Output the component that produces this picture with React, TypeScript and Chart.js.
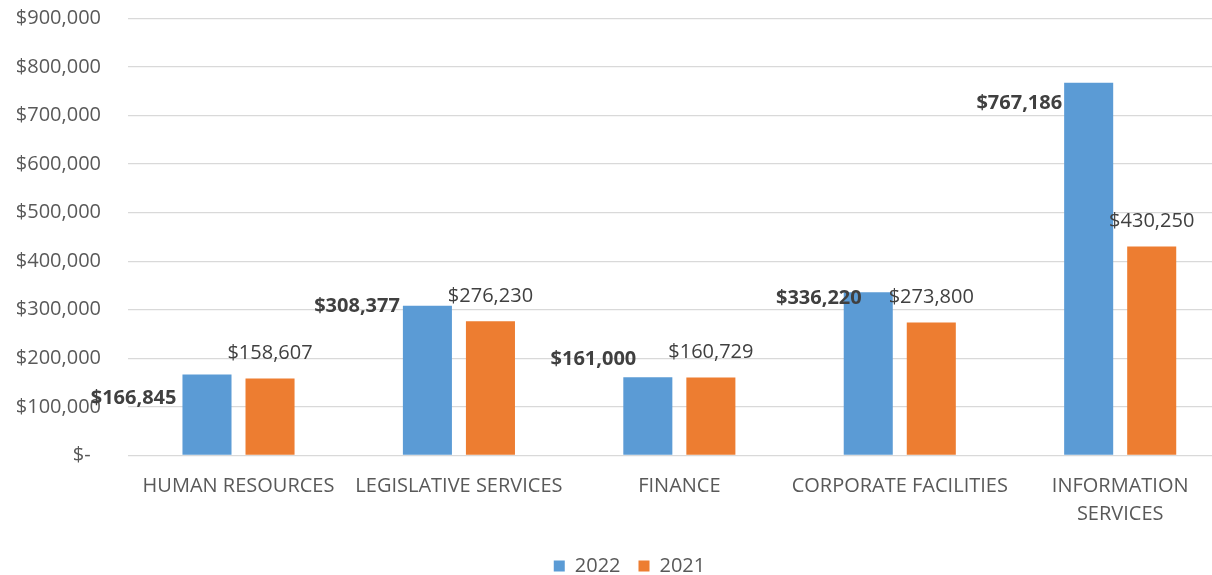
import React, { useEffect, useRef } from "react";
import { Chart, registerables } from "chart.js";

Chart.register(...registerables);

const categories: (string | string[])[] = [
  "HUMAN RESOURCES",
  "LEGISLATIVE SERVICES",
  "FINANCE",
  "CORPORATE FACILITIES",
  ["INFORMATION", "SERVICES"],
];
const values2022 = [166845, 308377, 161000, 336220, 767186];
const values2021 = [158607, 276230, 160729, 273800, 430250];
const yTicks = [0, 100000, 200000, 300000, 400000, 500000, 600000, 700000, 800000, 900000];

// label nudges (px) for the bold 2022 labels, relative to the bar's top-left corner
const LABEL_DX = [-6, -3, 13, 18, -2];
const LABEL_DY = [24, 1, -18, 6, 20];

const FONT = "'Open Sans', sans-serif";
const fmt = (v: number) => "$" + v.toLocaleString("en-US");

const labelPlugin = {
  id: "barLabels",
  afterLayout(chart: any) {
    if (chart.legend) {
      chart.legend.left += 14.3;
      chart.legend.right += 14.3;
    }
  },
  afterDatasetsDraw(chart: any) {
    const ctx = chart.ctx;
    ctx.save();
    ctx.fillStyle = "#404040";
    ctx.textBaseline = "middle";
    const m0 = chart.getDatasetMeta(0);
    ctx.font = `bold 20px ${FONT}`;
    ctx.textAlign = "right";
    m0.data.forEach((bar: any, i: number) => {
      const left = bar.x - bar.width / 2;
      ctx.fillText(fmt(values2022[i]), left + LABEL_DX[i], bar.y + LABEL_DY[i]);
    });
    const m1 = chart.getDatasetMeta(1);
    ctx.font = `20px ${FONT}`;
    ctx.textAlign = "center";
    m1.data.forEach((bar: any, i: number) => {
      ctx.fillText(fmt(values2021[i]), bar.x, bar.y - 25);
    });
    ctx.restore();
  },
};

export default function App() {
  const ref = useRef<HTMLCanvasElement>(null);
  useEffect(() => {
    if (!ref.current) return;
    const chart = new Chart(ref.current, {
      type: "bar",
      data: {
        labels: categories,
        datasets: [
          {
            label: "2022",
            data: values2022,
            backgroundColor: "#5B9BD5",
            categoryPercentage: 0.572,
            barPercentage: 0.778,
          },
          {
            label: "2021",
            data: values2021,
            backgroundColor: "#ED7D31",
            categoryPercentage: 0.572,
            barPercentage: 0.778,
          },
        ],
      },
      options: {
        responsive: false,
        animation: false,
        devicePixelRatio: 1,
        layout: { padding: { top: 18.3, left: 0, right: 1.6, bottom: 4 } },
        plugins: {
          tooltip: { enabled: false },
          legend: {
            position: "bottom",
            labels: {
              boxWidth: 11,
              boxHeight: 11,
              padding: 18,
              color: "#595959",
              font: { family: FONT, size: 20 },
            },
          },
        },
        scales: {
          x: {
            grid: { display: false, drawTicks: false },
            border: { display: false },
            ticks: {
              autoSkip: false,
              maxRotation: 0,
              padding: 16.5,
              color: "#595959",
              font: { family: FONT, size: 20, lineHeight: 1.4 },
            },
            afterFit: (s: any) => {
              s.height = 82.5;
              s.paddingLeft = 0;
              s.paddingRight = 0;
            },
          },
          y: {
            min: 0,
            max: 900000,
            afterBuildTicks: (s: any) => {
              s.ticks = yTicks.map((v) => ({ value: v }));
            },
            grid: { color: "#d9d9d9", lineWidth: 1.3, drawTicks: false },
            border: { display: false },
            ticks: {
              padding: 27.3,
              color: "#595959",
              font: { family: FONT, size: 20 },
              callback: (v: any) => (v === 0 ? "$-  " : fmt(Number(v))),
            },
            afterFit: (s: any) => {
              s.width = 128.3;
              s.paddingTop = 0;
              s.paddingBottom = 0;
            },
          },
        },
      },
      plugins: [labelPlugin],
    });
    return () => chart.destroy();
  }, []);
  return (
    <div
      style={{
        position: "fixed",
        left: 0,
        top: 0,
        width: 1212,
        height: 575,
        overflow: "hidden",
        background: "#fff",
      }}
    >
      <canvas ref={ref} width={1232} height={590} style={{ width: 1232, height: 590, display: "block" }} />
    </div>
  );
}
